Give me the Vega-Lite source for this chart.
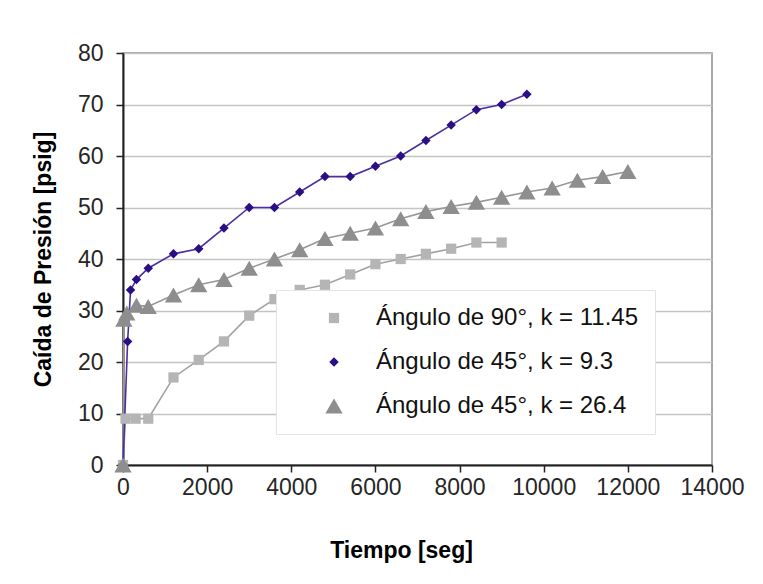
{
  "$schema": "https://vega.github.io/schema/vega-lite/v6.json",
  "width": 589,
  "height": 412,
  "autosize": {"type": "none"},
  "padding": {"left": 123, "top": 53, "right": 51, "bottom": 119},
  "background": "white",
  "config": {
    "font": "Liberation Sans",
    "view": {"stroke": "#8a8a8a", "strokeWidth": 1.5},
    "axis": {
      "labelFont": "Liberation Sans",
      "labelFontSize": 23,
      "labelColor": "#262626",
      "titleFont": "Liberation Sans",
      "titleFontSize": 23,
      "titleFontWeight": "bold",
      "titleColor": "#000000",
      "domainColor": "#222222",
      "domainWidth": 2,
      "tickColor": "#222222",
      "tickWidth": 1.5,
      "tickSize": 7
    },
    "legend": {
      "orient": "none",
      "legendX": 153,
      "legendY": 237,
      "fillColor": "white",
      "strokeColor": "#e4e4e4",
      "padding": 16,
      "labelFont": "Liberation Sans",
      "labelFontSize": 24,
      "labelColor": "#111111",
      "labelLimit": 600,
      "labelOffset": 30,
      "rowPadding": 20,
      "symbolOffset": 30
    }
  },
  "data": {
    "values": [
      {"serie": "Ángulo de 90°, k = 11.45", "t": 0, "p": 0},
      {"serie": "Ángulo de 90°, k = 11.45", "t": 60, "p": 9},
      {"serie": "Ángulo de 90°, k = 11.45", "t": 300, "p": 9},
      {"serie": "Ángulo de 90°, k = 11.45", "t": 600, "p": 9},
      {"serie": "Ángulo de 90°, k = 11.45", "t": 1200, "p": 17},
      {"serie": "Ángulo de 90°, k = 11.45", "t": 1800, "p": 20.4},
      {"serie": "Ángulo de 90°, k = 11.45", "t": 2400, "p": 24},
      {"serie": "Ángulo de 90°, k = 11.45", "t": 3000, "p": 29},
      {"serie": "Ángulo de 90°, k = 11.45", "t": 3600, "p": 32.2},
      {"serie": "Ángulo de 90°, k = 11.45", "t": 4200, "p": 34},
      {"serie": "Ángulo de 90°, k = 11.45", "t": 4800, "p": 35},
      {"serie": "Ángulo de 90°, k = 11.45", "t": 5400, "p": 37},
      {"serie": "Ángulo de 90°, k = 11.45", "t": 6000, "p": 39},
      {"serie": "Ángulo de 90°, k = 11.45", "t": 6600, "p": 40},
      {"serie": "Ángulo de 90°, k = 11.45", "t": 7200, "p": 41},
      {"serie": "Ángulo de 90°, k = 11.45", "t": 7800, "p": 42},
      {"serie": "Ángulo de 90°, k = 11.45", "t": 8400, "p": 43.2},
      {"serie": "Ángulo de 90°, k = 11.45", "t": 9000, "p": 43.2},
      {"serie": "Ángulo de 45°, k = 9.3", "t": 0, "p": 0},
      {"serie": "Ángulo de 45°, k = 9.3", "t": 110, "p": 24},
      {"serie": "Ángulo de 45°, k = 9.3", "t": 180, "p": 34},
      {"serie": "Ángulo de 45°, k = 9.3", "t": 320, "p": 36},
      {"serie": "Ángulo de 45°, k = 9.3", "t": 600, "p": 38.2},
      {"serie": "Ángulo de 45°, k = 9.3", "t": 1200, "p": 41},
      {"serie": "Ángulo de 45°, k = 9.3", "t": 1800, "p": 42},
      {"serie": "Ángulo de 45°, k = 9.3", "t": 2400, "p": 46},
      {"serie": "Ángulo de 45°, k = 9.3", "t": 3000, "p": 50},
      {"serie": "Ángulo de 45°, k = 9.3", "t": 3600, "p": 50},
      {"serie": "Ángulo de 45°, k = 9.3", "t": 4200, "p": 53},
      {"serie": "Ángulo de 45°, k = 9.3", "t": 4800, "p": 56},
      {"serie": "Ángulo de 45°, k = 9.3", "t": 5400, "p": 56},
      {"serie": "Ángulo de 45°, k = 9.3", "t": 6000, "p": 58},
      {"serie": "Ángulo de 45°, k = 9.3", "t": 6600, "p": 60},
      {"serie": "Ángulo de 45°, k = 9.3", "t": 7200, "p": 63},
      {"serie": "Ángulo de 45°, k = 9.3", "t": 7800, "p": 66},
      {"serie": "Ángulo de 45°, k = 9.3", "t": 8400, "p": 69},
      {"serie": "Ángulo de 45°, k = 9.3", "t": 9000, "p": 70},
      {"serie": "Ángulo de 45°, k = 9.3", "t": 9600, "p": 72},
      {"serie": "Ángulo de 45°, k = 26.4", "t": 0, "p": 0},
      {"serie": "Ángulo de 45°, k = 26.4", "t": 20, "p": 28.3},
      {"serie": "Ángulo de 45°, k = 26.4", "t": 90, "p": 29.5},
      {"serie": "Ángulo de 45°, k = 26.4", "t": 320, "p": 31},
      {"serie": "Ángulo de 45°, k = 26.4", "t": 600, "p": 30.8},
      {"serie": "Ángulo de 45°, k = 26.4", "t": 1200, "p": 33},
      {"serie": "Ángulo de 45°, k = 26.4", "t": 1800, "p": 35},
      {"serie": "Ángulo de 45°, k = 26.4", "t": 2400, "p": 36},
      {"serie": "Ángulo de 45°, k = 26.4", "t": 3000, "p": 38.2},
      {"serie": "Ángulo de 45°, k = 26.4", "t": 3600, "p": 40},
      {"serie": "Ángulo de 45°, k = 26.4", "t": 4200, "p": 41.8},
      {"serie": "Ángulo de 45°, k = 26.4", "t": 4800, "p": 44},
      {"serie": "Ángulo de 45°, k = 26.4", "t": 5400, "p": 45},
      {"serie": "Ángulo de 45°, k = 26.4", "t": 6000, "p": 46},
      {"serie": "Ángulo de 45°, k = 26.4", "t": 6600, "p": 47.8},
      {"serie": "Ángulo de 45°, k = 26.4", "t": 7200, "p": 49.2},
      {"serie": "Ángulo de 45°, k = 26.4", "t": 7800, "p": 50.2},
      {"serie": "Ángulo de 45°, k = 26.4", "t": 8400, "p": 51},
      {"serie": "Ángulo de 45°, k = 26.4", "t": 9000, "p": 52},
      {"serie": "Ángulo de 45°, k = 26.4", "t": 9600, "p": 53},
      {"serie": "Ángulo de 45°, k = 26.4", "t": 10200, "p": 53.8},
      {"serie": "Ángulo de 45°, k = 26.4", "t": 10800, "p": 55.3},
      {"serie": "Ángulo de 45°, k = 26.4", "t": 11400, "p": 56},
      {"serie": "Ángulo de 45°, k = 26.4", "t": 12000, "p": 57}
    ]
  },
  "encoding": {
    "x": {
      "field": "t",
      "type": "quantitative",
      "scale": {"domain": [0, 14000], "nice": false},
      "axis": {
        "title": "Tiempo [seg]",
        "values": [0, 2000, 4000, 6000, 8000, 10000, 12000, 14000],
        "format": "d",
        "grid": false,
        "labelFlush": false,
        "labelPadding": 4,
        "titleX": 278,
        "titleY": 92,
        "titleAnchor": "middle",
        "titleAlign": "center",
        "titleBaseline": "alphabetic"
      }
    },
    "y": {
      "field": "p",
      "type": "quantitative",
      "scale": {"domain": [0, 80], "nice": false},
      "axis": {
        "title": "Caída de Presión [psig]",
        "values": [0, 10, 20, 30, 40, 50, 60, 70, 80],
        "grid": true,
        "gridColor": "#c4c4c4",
        "gridWidth": 1.5,
        "labelPadding": 13,
        "labelFlush": false,
        "titleX": -80,
        "titleY": 206,
        "titleAngle": -90,
        "titleAlign": "center",
        "titleBaseline": "middle"
      }
    }
  },
  "layer": [
    {
      "transform": [{"filter": {"field": "serie", "equal": "Ángulo de 90°, k = 11.45"}}],
      "mark": {"type": "line", "strokeWidth": 1.6, "stroke": "#a2a2a2"},
      "encoding": {}
    },
    {
      "transform": [{"filter": {"field": "serie", "equal": "Ángulo de 45°, k = 26.4"}}],
      "mark": {"type": "line", "strokeWidth": 1.6, "stroke": "#979797"},
      "encoding": {}
    },
    {
      "transform": [{"filter": {"field": "serie", "equal": "Ángulo de 45°, k = 9.3"}}],
      "mark": {"type": "line", "strokeWidth": 1.6, "stroke": "#4b2fa0"},
      "encoding": {}
    },
    {
      "mark": {"type": "point", "filled": true, "opacity": 1},
      "encoding": {
        "color": {
          "field": "serie",
          "type": "nominal",
          "scale": {
            "domain": ["Ángulo de 90°, k = 11.45", "Ángulo de 45°, k = 9.3", "Ángulo de 45°, k = 26.4"],
            "range": ["#b5b5b5", "#2b0e84", "#8e8e8e"]
          },
          "legend": {"title": null}
        },
        "shape": {
          "field": "serie",
          "type": "nominal",
          "scale": {
            "domain": ["Ángulo de 90°, k = 11.45", "Ángulo de 45°, k = 9.3", "Ángulo de 45°, k = 26.4"],
            "range": ["square", "diamond", "triangle-up"]
          },
          "legend": {"title": null}
        },
        "size": {
          "field": "serie",
          "type": "nominal",
          "scale": {
            "type": "ordinal",
            "domain": ["Ángulo de 90°, k = 11.45", "Ángulo de 45°, k = 9.3", "Ángulo de 45°, k = 26.4"],
            "range": [105, 90, 300]
          },
          "legend": {"title": null}
        }
      }
    }
  ]
}
